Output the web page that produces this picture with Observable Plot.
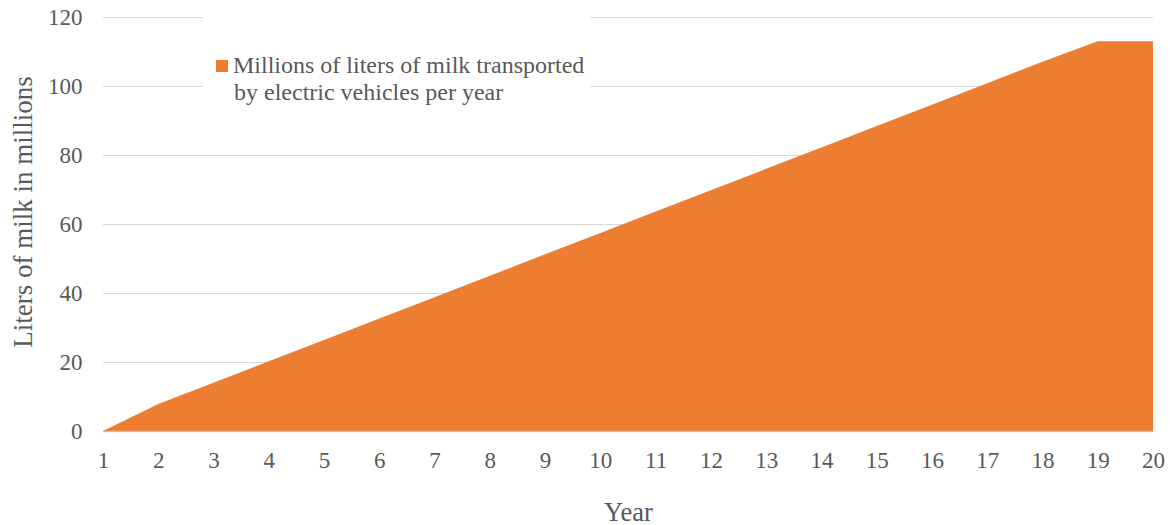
<!DOCTYPE html>
<html>
<head>
<meta charset="utf-8">
<script src="https://cdn.jsdelivr.net/npm/d3@7"></script>
<script src="https://cdn.jsdelivr.net/npm/@observablehq/plot@0.6"></script>
<style>
  html, body { margin: 0; padding: 0; background: #fff; }
  #wrap { position: relative; width: 1172px; height: 525px; font-family: "Liberation Serif", Tinos, "Times New Roman", Times, serif; }
  #wrap svg, #wrap svg text { font-family: "Liberation Serif", Tinos, "Times New Roman", Times, serif !important; }
  #legend { position: absolute; left: 203px; top: 15px; width: 387px; height: 100px; background: #fff; box-sizing: border-box; padding: 37px 0 0 13px; color: #595959; font-size: 24px; line-height: 26.5px; white-space: nowrap; }
  #legend .sw { display: inline-block; width: 12px; height: 12px; background: #ED7D31; margin-right: 5px; vertical-align: 1px; }
  #legend .l2 { padding-left: 18px; }
</style>
</head>
<body>
<div id="wrap"></div>
<script>
const years = [1, 2, 3, 4, 5, 6, 7, 8, 9, 10, 11, 12, 13, 14, 15, 16, 17, 18, 19, 20];
const milk = [0, 7.8, 14.0, 20.2, 26.4, 32.6, 38.8, 45.0, 51.2, 57.4, 63.6, 69.8, 76.0, 82.2, 88.4, 94.6, 100.8, 107.0, 113.0, 113.0];
const yTicks = [0, 20, 40, 60, 80, 100, 120];
const gridTicks = [20, 40, 60, 80, 100, 120];
const seriesName = "Millions of liters of milk transported by electric vehicles per year";
const xTitle = "Year";
const yTitle = "Liters of milk in millions";

const data = years.map((y, i) => ({year: y, value: milk[i]}));

const chart = Plot.plot({
  width: 1172,
  height: 525,
  marginLeft: 103,
  marginRight: 19,
  marginTop: 17,
  marginBottom: 94,
  style: {fontSize: "23px", color: "#595959", background: "#fff"},
  x: {domain: [1, 20]},
  y: {domain: [0, 120]},
  marks: [
    Plot.ruleY(gridTicks, {stroke: "#d9d9d9", strokeWidth: 1}),
    Plot.areaY(data, {x: "year", y: "value", fill: "#ED7D31"}),
    Plot.ruleY([0], {stroke: "#bfbfbf", strokeWidth: 1.5}),
    Plot.axisX(years, {tickSize: 0, tickPadding: 20, tickFormat: d => String(d), fill: "#595959", fontSize: 23, label: null}),
    Plot.axisX({label: xTitle, labelAnchor: "center", labelOffset: 89, labelArrow: "none", ticks: [], tickSize: 0, fill: "#595959", fontSize: 26.5}),
    Plot.axisY(yTicks, {tickSize: 0, tickPadding: 21, fill: "#595959", fontSize: 23, label: null}),
    Plot.text([yTitle], {frameAnchor: "left", rotate: -90, lineAnchor: "top", textAnchor: "middle", dx: -90.5, dy: -12.5, fill: "#595959", fontSize: 27})
  ]
});

const wrap = document.getElementById("wrap");
wrap.appendChild(chart);
const leg = document.createElement("div");
leg.id = "legend";
const words = seriesName.split(" ");
leg.innerHTML = `<div><span class="sw"></span>${words.slice(0, 6).join(" ")}</div><div class="l2">${words.slice(6).join(" ")}</div>`;
wrap.appendChild(leg);
</script>
</body>
</html>
